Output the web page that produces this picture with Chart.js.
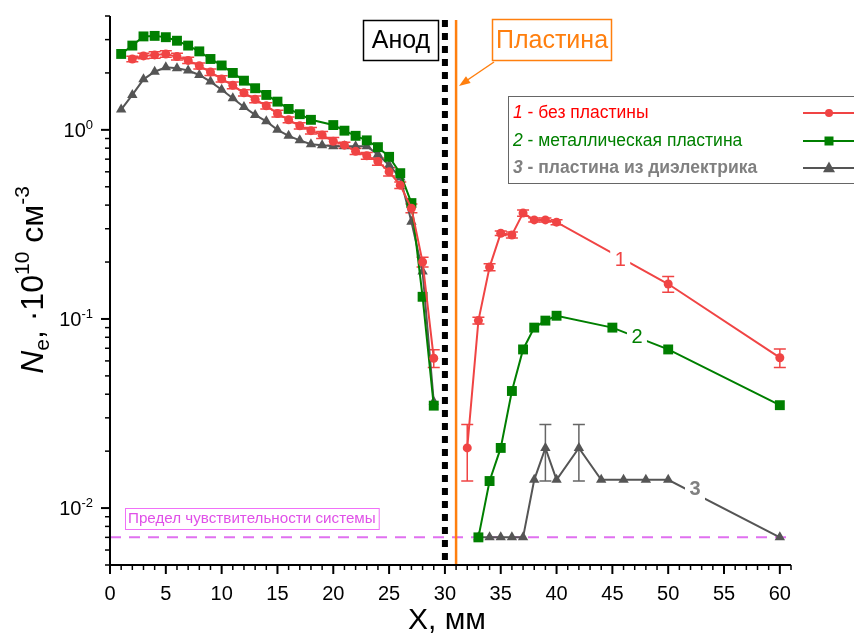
<!DOCTYPE html>
<html>
<head>
<meta charset="utf-8">
<script src="https://cdn.jsdelivr.net/npm/chart.js@4"></script>
<style>
  html, body { margin: 0; padding: 0; background: #fff; }
  canvas { display: block; }
</style>
</head>
<body>
<canvas id="chart" width="854" height="633"></canvas>
<script>
// --- data ---
// 1 - без пластины
const xNoPlate = [2, 3, 4, 5, 6, 7, 8, 9, 10, 11, 12, 13, 14, 15, 16, 17, 18, 19, 20, 21, 22, 23, 24, 25, 26, 27, 28, 29,
                  31, 32, 33, 34, 35, 36, 37, 38, 39, 40, 50, 60];
const neNoPlate = [2.37, 2.46, 2.49, 2.52, 2.44, 2.33, 2.18, 2.02, 1.86, 1.72, 1.57, 1.45, 1.34, 1.22, 1.13, 1.05, 0.99, 0.94,
                   0.87, 0.83, 0.77, 0.73, 0.68, 0.60, 0.51, 0.385, 0.20, 0.062,
                   null, 0.0208, 0.098, 0.188, 0.284, 0.278, 0.363, 0.334, 0.334, 0.325, 0.153, 0.0624];
const errNoPlate = [0.08, 0.08, 0.1, 0.1, 0.1, 0.09, 0.08, 0.08, 0.07, 0.07, 0.06, 0.06, 0.05, 0.05, 0.04, 0.04, 0.04, 0.04,
                    0.04, 0.03, 0.03, 0.03, 0.03, 0.03, 0.02, 0.02, 0.012, 0.0067,
                    null, 0.0069, 0.004, 0.008, 0.008, 0.01, 0.014, 0.008, 0.008, 0.01, 0.0145, 0.007];

// 2 - металлическая пластина
const xMetal = [1, 2, 3, 4, 5, 6, 7, 8, 9, 10, 11, 12, 13, 14, 15, 16, 17, 18, 20, 21, 22, 23, 24, 25, 26, 27, 28, 29,
                31, 33, 34, 35, 36, 37, 38, 39, 40, 45, 50, 60];
const neMetal = [2.52, 2.79, 3.12, 3.14, 3.09, 2.96, 2.79, 2.60, 2.37, 2.19, 2.0, 1.82, 1.66, 1.53, 1.41, 1.29, 1.21, 1.13,
                 1.06, 0.99, 0.93, 0.88, 0.81, 0.72, 0.59, 0.41, 0.131, 0.0348,
                 null, 0.0070, 0.0139, 0.0208, 0.0416, 0.069, 0.090, 0.098, 0.104, 0.090, 0.069, 0.035];

// 3 - пластина из диэлектрика
const xDiel = [1, 2, 3, 4, 5, 6, 7, 8, 9, 10, 11, 12, 13, 14, 15, 16, 17, 18, 19, 20, 21, 22, 23, 24, 25, 26, 27, 28, 29,
               31, 33, 34, 35, 36, 37, 38, 39, 40, 42, 44, 46, 48, 50, 60];
const neDiel = [1.28, 1.53, 1.85, 2.03, 2.14, 2.12, 2.06, 1.95, 1.80, 1.63, 1.47, 1.32, 1.20, 1.11, 1.0, 0.93, 0.88, 0.84,
                0.83, 0.82, 0.82, 0.82, 0.82, 0.74, 0.65, 0.56, 0.327, 0.178, 0.0365,
                null, 0.007, 0.007, 0.007, 0.007, 0.007, 0.0141, 0.0208, 0.0141, 0.0208, 0.0141, 0.0141, 0.0141, 0.0141, 0.007];
const errDielX = [39, 42];
const errDielVal = [0.0069, 0.0069];

const sensitivityLimit = 0.007;
const anodeX = 30;
const plateX = 31;

const xTicks = [0, 5, 10, 15, 20, 25, 30, 35, 40, 45, 50, 55, 60];
const yTicks = [1, 0.1, 0.01];
const yTickExp = ['0', '-1', '-2'];

const RED = '#f04444';
const GREEN = '#007f00';
const GRAY = '#555555';
const ORANGE = '#ff7f0e';
const VIOLET = '#e070f0';
const FONT = '"Liberation Sans", Arial, sans-serif';

function pts(xs, ys) {
    return xs.map((x, i) => ({ x: x, y: ys[i] }));
}

// draw a row of text pieces with different fonts
function drawRuns(ctx, x, y, runs) {
    let cx = x;
    runs.forEach(r => {
        ctx.font = r.font;
        ctx.fillStyle = r.color;
        ctx.fillText(r.t, cx, y + (r.dy || 0));
        cx += ctx.measureText(r.t).width;
    });
    return cx;
}

function drawMarker(ctx, style, x, y, r, color) {
    ctx.fillStyle = color;
    ctx.beginPath();
    if (style === 'circle') {
        ctx.arc(x, y, r, 0, Math.PI * 2);
    } else if (style === 'rect') {
        ctx.rect(x - r, y - r, 2 * r, 2 * r);
    } else {
        ctx.moveTo(x, y - r * 1.1);
        ctx.lineTo(x + r, y + r * 0.7);
        ctx.lineTo(x - r, y + r * 0.7);
        ctx.closePath();
    }
    ctx.fill();
}

const backgroundPlugin = {
    id: 'background',
    beforeDatasetsDraw(chart) {
        const ctx = chart.ctx;
        const xs = chart.scales.x, ys = chart.scales.y;
        const area = chart.chartArea;
        ctx.save();

        // sensitivity limit
        const ly = ys.getPixelForValue(sensitivityLimit);
        ctx.strokeStyle = VIOLET;
        ctx.lineWidth = 2;
        ctx.setLineDash([11, 8]);
        ctx.beginPath();
        ctx.moveTo(area.left, ly);
        ctx.lineTo(area.right, ly);
        ctx.stroke();
        ctx.setLineDash([]);

        ctx.font = '15.2px ' + FONT;
        ctx.fillStyle = '#e050e8';
        ctx.textBaseline = 'middle';
        ctx.textAlign = 'left';
        const lbl = 'Предел чувствительности системы';
        const lw = ctx.measureText(lbl).width;
        ctx.fillText(lbl, 128, 519);
        ctx.strokeStyle = '#f070f8';
        ctx.lineWidth = 1;
        ctx.strokeRect(125.5, 508.5, lw + 6, 21);

        // anode (dotted black) and plate (orange)
        const ax = xs.getPixelForValue(anodeX);
        ctx.strokeStyle = '#000';
        ctx.lineWidth = 6;
        ctx.setLineDash([7, 6]);
        ctx.beginPath();
        ctx.moveTo(ax, area.top + 4);
        ctx.lineTo(ax, area.bottom);
        ctx.stroke();
        ctx.setLineDash([]);

        const px = xs.getPixelForValue(plateX);
        ctx.strokeStyle = ORANGE;
        ctx.lineWidth = 2.5;
        ctx.beginPath();
        ctx.moveTo(px, area.top + 4);
        ctx.lineTo(px, area.bottom);
        ctx.stroke();

        // error bars
        const bar = (x, v, e, color) => {
            const cx = xs.getPixelForValue(x);
            const y1 = ys.getPixelForValue(v + e);
            const y2 = ys.getPixelForValue(v - e);
            ctx.strokeStyle = color;
            ctx.lineWidth = 1.5;
            ctx.beginPath();
            ctx.moveTo(cx, y1); ctx.lineTo(cx, y2);
            ctx.moveTo(cx - 6, y1); ctx.lineTo(cx + 6, y1);
            ctx.moveTo(cx - 6, y2); ctx.lineTo(cx + 6, y2);
            ctx.stroke();
        };
        xNoPlate.forEach((x, i) => {
            if (neNoPlate[i] !== null && errNoPlate[i] !== null) bar(x, neNoPlate[i], errNoPlate[i], RED);
        });
        errDielX.forEach((x, i) => {
            const v = neDiel[xDiel.indexOf(x)];
            bar(x, v, errDielVal[i], '#666666');
        });
        ctx.restore();
    }
};

const overlayPlugin = {
    id: 'overlay',
    afterDatasetsDraw(chart) {
        const ctx = chart.ctx;
        const xs = chart.scales.x, ys = chart.scales.y;
        const area = chart.chartArea;
        ctx.save();

        // curve labels breaking the lines
        const curveLabels = [
            { t: '1', x: 45.7, y: 0.205, color: RED, bold: false },
            { t: '2', x: 47.2, y: 0.080, color: GREEN, bold: false },
            { t: '3', x: 52.4, y: 0.0125, color: '#808080', bold: true }
        ];
        ctx.textAlign = 'center';
        ctx.textBaseline = 'middle';
        curveLabels.forEach(l => {
            const cx = xs.getPixelForValue(l.x), cy = ys.getPixelForValue(l.y);
            ctx.fillStyle = '#fff';
            ctx.fillRect(cx - 10, cy - 12, 20, 24);
            ctx.font = (l.bold ? 'bold ' : '') + '20px ' + FONT;
            ctx.fillStyle = l.color;
            ctx.fillText(l.t, cx, cy);
        });

        // legend
        ctx.fillStyle = '#fff';
        ctx.fillRect(508, 96, 360, 87);
        ctx.strokeStyle = '#666';
        ctx.lineWidth = 1;
        ctx.strokeRect(508.5, 96.5, 360, 87);
        const rows = [
            { n: '1', rest: ' - без пластины', color: '#ff0000', line: RED, marker: 'circle', r: 4, bold: false, y: 113 },
            { n: '2', rest: ' - металлическая пластина', color: '#008000', line: GREEN, marker: 'rect', r: 4.5, bold: false, y: 141 },
            { n: '3', rest: ' - пластина из диэлектрика', color: '#808080', line: GRAY, marker: 'tri', r: 6, bold: true, y: 168 }
        ];
        ctx.textAlign = 'left';
        rows.forEach(r => {
            const w = r.bold ? 'bold ' : '';
            drawRuns(ctx, 513, r.y, [
                { t: r.n, font: 'italic ' + w + '17.5px ' + FONT, color: r.color },
                { t: r.rest, font: w + '17.5px ' + FONT, color: r.color }
            ]);
            ctx.strokeStyle = r.line;
            ctx.lineWidth = 2;
            ctx.beginPath();
            ctx.moveTo(803, r.y);
            ctx.lineTo(860, r.y);
            ctx.stroke();
            drawMarker(ctx, r.marker, 829, r.y, r.r, r.line);
        });

        // Анод box
        ctx.fillStyle = '#fff';
        ctx.fillRect(363, 20, 75, 40);
        ctx.strokeStyle = '#000';
        ctx.lineWidth = 1.5;
        ctx.strokeRect(363.5, 20.5, 75, 40);
        ctx.font = '25px ' + FONT;
        ctx.fillStyle = '#000';
        ctx.textAlign = 'center';
        ctx.fillText('Анод', 401, 41);

        // Пластина box + arrow
        ctx.fillStyle = '#fff';
        ctx.fillRect(492, 19, 119, 41);
        ctx.strokeStyle = ORANGE;
        ctx.lineWidth = 1.5;
        ctx.strokeRect(492.5, 19.5, 119, 41);
        ctx.fillStyle = ORANGE;
        ctx.fillText('Пластина', 552, 41);
        const ax0 = 494, ay0 = 62, ax1 = 459, ay1 = 86;
        ctx.beginPath();
        ctx.moveTo(ax0, ay0);
        ctx.lineTo(ax1 + 7, ay1 - 5);
        ctx.stroke();
        const ang = Math.atan2(ay1 - ay0, ax1 - ax0);
        ctx.beginPath();
        ctx.moveTo(ax1, ay1);
        ctx.lineTo(ax1 - 12 * Math.cos(ang - 0.35), ay1 - 12 * Math.sin(ang - 0.35));
        ctx.lineTo(ax1 - 12 * Math.cos(ang + 0.35), ay1 - 12 * Math.sin(ang + 0.35));
        ctx.closePath();
        ctx.fill();

        // axes
        ctx.strokeStyle = '#000';
        ctx.lineWidth = 2;
        ctx.beginPath();
        ctx.moveTo(area.left, area.top);
        ctx.lineTo(area.left, area.bottom);
        ctx.lineTo(area.right, area.bottom);
        ctx.stroke();

        // x ticks
        for (let v = 0; v <= 61; v++) {
            const tx = xs.getPixelForValue(v);
            const major = v % 5 === 0;
            ctx.lineWidth = major ? 2 : 1.5;
            ctx.beginPath();
            ctx.moveTo(tx, area.bottom);
            ctx.lineTo(tx, area.bottom + (major ? 9 : 5));
            ctx.stroke();
        }
        ctx.font = '20px ' + FONT;
        ctx.fillStyle = '#000';
        ctx.textAlign = 'center';
        ctx.textBaseline = 'middle';
        xTicks.forEach(v => ctx.fillText(String(v), xs.getPixelForValue(v), 594));

        // y ticks
        for (let d = -3; d <= 0; d++) {
            for (let m = 1; m <= 9; m++) {
                const v = m * Math.pow(10, d);
                if (v < ys.min * 0.999 || v > ys.max * 1.001) continue;
                const ty = ys.getPixelForValue(v);
                const major = m === 1;
                ctx.lineWidth = major ? 2 : 1.5;
                ctx.beginPath();
                ctx.moveTo(area.left, ty);
                ctx.lineTo(area.left - (major ? 9 : 5), ty);
                ctx.stroke();
            }
        }
        ctx.textBaseline = 'alphabetic';
        ctx.textAlign = 'left';
        yTicks.forEach((v, i) => {
            const ty = ys.getPixelForValue(v);
            ctx.font = '13px ' + FONT;
            const sw = ctx.measureText(yTickExp[i]).width;
            ctx.font = '20px ' + FONT;
            const bw = ctx.measureText('10').width;
            const right = 93;
            drawRuns(ctx, right - sw - bw, ty + 7, [
                { t: '10', font: '20px ' + FONT, color: '#000' },
                { t: yTickExp[i], font: '13px ' + FONT, color: '#000', dy: -8 }
            ]);
        });

        // axis titles
        ctx.font = '30px ' + FONT;
        ctx.textAlign = 'center';
        ctx.fillText('X, мм', 447, 629);

        ctx.save();
        ctx.translate(43, 280);
        ctx.rotate(-Math.PI / 2);
        const runs = [
            { t: 'N', font: 'italic 32px ' + FONT, color: '#000' },
            { t: 'e', font: '21px ' + FONT, color: '#000', dy: 6 },
            { t: ', ·10', font: '32px ' + FONT, color: '#000' },
            { t: '10', font: '21px ' + FONT, color: '#000', dy: -14 },
            { t: ' см', font: '32px ' + FONT, color: '#000' },
            { t: '-3', font: '21px ' + FONT, color: '#000', dy: -14 }
        ];
        let total = 0;
        runs.forEach(r => { ctx.font = r.font; total += ctx.measureText(r.t).width; });
        ctx.textAlign = 'left';
        drawRuns(ctx, -total / 2, 0, runs);
        ctx.restore();

        ctx.restore();
    }
};

const ctx = document.getElementById('chart').getContext('2d');

new Chart(ctx, {
    type: 'line',
    data: {
        datasets: [
            {
                label: '1 - без пластины',
                data: pts(xNoPlate, neNoPlate),
                borderColor: RED,
                backgroundColor: RED,
                borderWidth: 2,
                pointStyle: 'circle',
                pointRadius: 4.5,
                pointBorderWidth: 0,
                spanGaps: false
            },
            {
                label: '2 - металлическая пластина',
                data: pts(xMetal, neMetal),
                borderColor: GREEN,
                backgroundColor: GREEN,
                borderWidth: 2,
                pointStyle: 'rect',
                pointRadius: 7,
                pointBorderWidth: 0,
                spanGaps: false
            },
            {
                label: '3 - пластина из диэлектрика',
                data: pts(xDiel, neDiel),
                borderColor: GRAY,
                backgroundColor: GRAY,
                borderWidth: 2,
                pointStyle: 'triangle',
                pointRadius: 6,
                pointBorderWidth: 0,
                spanGaps: false
            }
        ]
    },
    options: {
        responsive: false,
        animation: false,
        layout: { padding: { left: 110, right: 63, top: 16, bottom: 68 } },
        scales: {
            x: { type: 'linear', min: 0, max: 61, display: false },
            y: { type: 'logarithmic', min: 0.005, max: 4, display: false }
        },
        plugins: {
            legend: { display: false },
            tooltip: { enabled: false }
        }
    },
    plugins: [backgroundPlugin, overlayPlugin]
});
</script>
</body>
</html>
